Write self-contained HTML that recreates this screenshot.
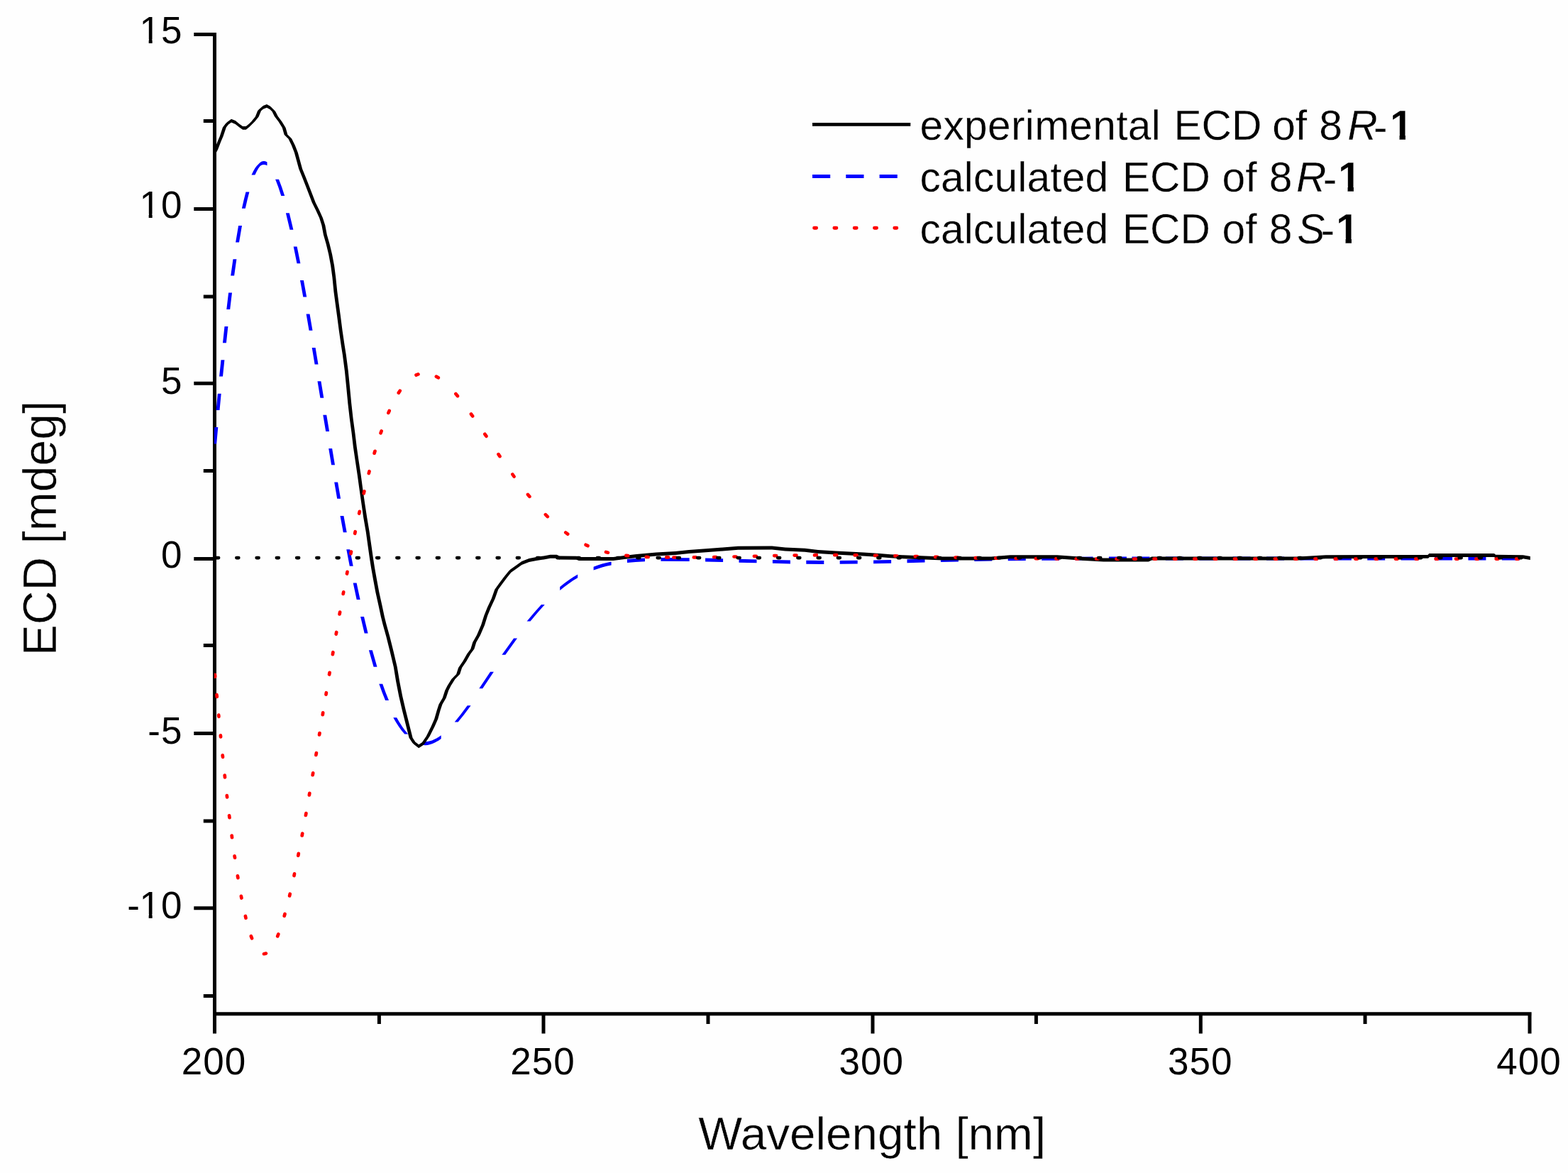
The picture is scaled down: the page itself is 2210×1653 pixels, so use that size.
<!DOCTYPE html>
<html lang="en">
<head>
<meta charset="utf-8">
<title>ECD spectra</title>
<style>
html,body{margin:0;padding:0;background:#fefefe;}
body{width:2210px;height:1653px;position:relative;overflow:hidden;font-family:"Liberation Sans",sans-serif;}
svg{display:block;}
</style>
</head>
<body>
<svg width="2210" height="1653" viewBox="0 0 2210 1653" style="position:absolute;left:0;top:0">
<rect width="2210" height="1653" fill="#fefefe"/>
<path d="M302.5 46 V1456.5 M302.5 1428.8 H2158.6 M273.3 48.4 H302.5 M273.3 294.4 H302.5 M273.3 540.2 H302.5 M273.3 787.5 H302.5 M273.3 1033.6 H302.5 M273.3 1279.7 H302.5 M286.8 170.5 H302.5 M286.8 418.0 H302.5 M286.8 663.6 H302.5 M286.8 909.6 H302.5 M286.8 1157.0 H302.5 M286.8 1403.5 H302.5 M766.0 1428.8 V1456.5 M1230.0 1428.8 V1456.5 M1692.3 1428.8 V1456.5 M2156.0 1428.8 V1456.5 M534.4 1428.8 V1443.0 M998.0 1428.8 V1443.0 M1460.4 1428.8 V1443.0 M1924.0 1428.8 V1443.0" fill="none" stroke="#000" stroke-width="5.0" stroke-linecap="butt"/>
<g clip-path="url(#plot)">
<path d="M300.3 625.5L302.4 602.1L307.3 602.1L305.2 625.5ZM304.6 578.1L306.8 554.8L311.7 554.8L309.5 578.1ZM309.1 530.6L311.5 507.3L316.4 507.3L314.0 530.6ZM314.0 483.3L316.5 460.0L321.4 460.0L318.9 483.3ZM319.3 436.0L322.1 412.5L327.0 412.5L324.2 436.0ZM325.2 388.5L328.5 365.3L333.4 365.3L330.1 388.5ZM332.1 341.4L336.1 317.9L341.0 317.9L337.0 341.4ZM340.9 293.8L343.7 281.5L348.6 281.5L345.8 293.8ZM343.7 281.5L346.5 270.5L351.4 270.5L348.6 281.5ZM343.7 281.5L346.1 279.1L348.6 281.5L346.1 284.0ZM354.5 246.6L356.9 241.5L361.8 241.5L359.4 246.6ZM356.9 241.5L359.3 237.3L364.2 237.3L361.8 241.5ZM359.3 237.3L361.7 234.0L366.6 234.0L364.2 237.3ZM364.1 231.6L366.6 229.1L366.6 234.0L364.1 236.5ZM366.6 229.1L369.0 227.6L369.0 232.5L366.6 234.0ZM369.0 227.6L371.5 227.0L371.5 231.9L369.0 232.5ZM371.5 227.0L374.0 227.3L374.0 232.2L371.5 231.9ZM374.0 227.3L376.5 228.4L376.5 233.3L374.0 232.2ZM356.9 241.5L359.3 239.0L361.8 241.5L359.3 243.9ZM359.3 237.3L361.7 234.8L364.2 237.3L361.7 239.7ZM361.7 234.0L364.1 231.6L366.6 234.0L364.1 236.5ZM364.1 231.6L366.6 229.1L369.0 231.6L366.6 234.0ZM366.6 230.1L369.0 227.6L371.5 230.1L369.0 232.5ZM369.0 229.5L371.5 227.0L373.9 229.5L371.5 231.9ZM371.5 229.7L374.0 227.3L376.4 229.7L374.0 232.2ZM393.0 252.7L397.1 263.5L392.2 263.5L388.1 252.7ZM397.1 263.5L401.2 276.1L396.3 276.1L392.2 263.5ZM392.2 263.5L394.6 261.0L397.1 263.5L394.6 265.9ZM407.8 300.3L413.4 323.7L408.5 323.7L402.9 300.3ZM418.6 347.6L423.4 371.2L418.5 371.2L413.7 347.6ZM427.9 395.0L432.2 418.5L427.3 418.5L423.0 395.0ZM436.5 442.5L440.5 465.7L435.6 465.7L431.6 442.5ZM444.6 490.0L448.5 513.4L443.6 513.4L439.7 490.0ZM452.4 537.3L456.3 560.7L451.4 560.7L447.5 537.3ZM460.2 584.7L464.1 608.0L459.2 608.0L455.3 584.7ZM468.1 632.1L472.0 655.3L467.1 655.3L463.2 632.1ZM476.1 679.4L480.1 702.8L475.2 702.8L471.2 679.4ZM484.4 727.0L488.7 750.3L483.8 750.3L479.5 727.0ZM493.2 774.3L497.7 797.7L492.8 797.7L488.3 774.3ZM502.6 821.6L507.6 845.0L502.7 845.0L497.7 821.6ZM513.0 869.0L518.6 892.5L513.7 892.5L508.1 869.0ZM524.8 916.3L531.5 939.8L526.6 939.8L519.9 916.3ZM539.2 963.8L543.6 975.9L538.7 975.9L534.3 963.8ZM543.6 975.9L548.0 987.1L543.1 987.1L538.7 975.9ZM538.7 975.9L541.1 973.4L543.6 975.9L541.1 978.3ZM559.2 1011.2L563.1 1018.1L558.2 1018.1L554.3 1011.2ZM563.1 1018.1L567.1 1024.3L562.2 1024.3L558.2 1018.1ZM567.1 1024.3L571.1 1029.8L566.2 1029.8L562.2 1024.3ZM571.1 1029.8L575.2 1034.5L570.3 1034.5L566.2 1029.8ZM558.2 1018.1L560.7 1015.7L563.1 1018.1L560.7 1020.6ZM562.2 1024.3L564.7 1021.9L567.1 1024.3L564.7 1026.8ZM566.2 1029.8L568.7 1027.3L571.1 1029.8L568.7 1032.2ZM596.7 1045.2L599.6 1045.3L599.6 1050.2L596.7 1050.1ZM599.6 1045.3L602.6 1045.0L602.6 1049.9L599.6 1050.2ZM602.6 1045.0L605.7 1044.3L605.7 1049.2L602.6 1049.9ZM605.7 1044.3L608.8 1043.4L608.8 1048.3L605.7 1049.2ZM608.8 1043.4L611.9 1042.1L611.9 1047.0L608.8 1048.3ZM611.9 1042.1L615.1 1040.4L615.1 1045.3L611.9 1047.0ZM615.1 1040.4L618.4 1038.5L618.4 1043.4L615.1 1045.3ZM618.4 1038.5L621.7 1036.2L621.7 1041.1L618.4 1043.4ZM597.2 1047.7L599.6 1045.3L602.1 1047.7L599.6 1050.2ZM600.2 1047.4L602.6 1045.0L605.1 1047.4L602.6 1049.9ZM603.2 1046.8L605.7 1044.3L608.1 1046.8L605.7 1049.2ZM606.3 1045.8L608.8 1043.4L611.2 1045.8L608.8 1048.3ZM609.5 1044.5L611.9 1042.1L614.4 1044.5L611.9 1047.0ZM612.7 1042.9L615.1 1040.4L617.6 1042.9L615.1 1045.3ZM615.9 1040.9L618.4 1038.5L620.8 1040.9L618.4 1043.4ZM640.7 1017.6L649.2 1007.0L654.1 1007.0L645.6 1017.6ZM649.2 1007.0L658.7 994.2L663.6 994.2L654.1 1007.0ZM649.2 1007.0L651.6 1004.6L654.1 1007.0L651.6 1009.5ZM675.3 970.2L691.0 946.8L695.9 946.8L680.2 970.2ZM707.4 922.8L724.1 899.4L729.0 899.4L712.3 922.8ZM742.6 875.4L752.9 863.2L757.8 863.2L747.5 875.4ZM752.9 863.2L762.9 852.1L767.8 852.1L757.8 863.2ZM752.9 863.2L755.3 860.7L757.8 863.2L755.3 865.6ZM789.2 827.0L795.4 822.0L795.4 826.9L789.2 831.9ZM795.4 822.0L801.6 817.5L801.6 822.4L795.4 826.9ZM801.6 817.5L807.9 813.2L807.9 818.1L801.6 822.4ZM807.9 813.2L814.2 809.4L814.2 814.3L807.9 818.1ZM793.0 824.5L795.4 822.0L797.9 824.5L795.4 826.9ZM799.2 819.9L801.6 817.5L804.1 819.9L801.6 822.4ZM805.4 815.7L807.9 813.2L810.3 815.7L807.9 818.1ZM836.6 798.7L842.6 796.5L842.6 801.4L836.6 803.6ZM842.6 796.5L848.7 794.6L848.7 799.5L842.6 801.4ZM848.7 794.6L855.0 792.9L855.0 797.8L848.7 799.5ZM855.0 792.9L861.6 791.5L861.6 796.4L855.0 797.8ZM840.1 799.0L842.6 796.5L845.0 799.0L842.6 801.4ZM846.3 797.1L848.7 794.6L851.2 797.1L848.7 799.5ZM852.6 795.4L855.0 792.9L857.5 795.4L855.0 797.8ZM884.0 788.1L895.8 787.1L895.8 792.0L884.0 793.0ZM895.8 787.1L909.0 786.4L909.0 791.3L895.8 792.0ZM893.4 789.5L895.8 787.1L898.3 789.5L895.8 792.0ZM931.4 785.9L971.7 786.2L971.7 791.1L931.4 790.8ZM994.1 786.6L1019.1 787.2L1019.1 792.1L994.1 791.5ZM1041.5 787.8L1066.5 788.4L1066.5 793.3L1041.5 792.7ZM1088.9 788.9L1113.9 789.5L1113.9 794.4L1088.9 793.8ZM1136.3 789.8L1161.3 790.0L1161.3 794.9L1136.3 794.7ZM1183.7 789.9L1208.7 789.7L1208.7 794.6L1183.7 794.8ZM1231.1 789.4L1256.1 788.9L1256.1 793.8L1231.1 794.3ZM1278.5 788.3L1303.5 787.7L1303.5 792.6L1278.5 793.2ZM1325.9 787.1L1350.9 786.5L1350.9 791.4L1325.9 792.0ZM1373.3 786.0L1398.3 785.6L1398.3 790.5L1373.3 790.9ZM1420.7 785.3L1445.7 785.1L1445.7 790.0L1420.7 790.2ZM1468.1 784.9L1493.1 784.8L1493.1 789.7L1468.1 789.8ZM1515.5 784.7L1540.5 784.6L1540.5 789.5L1515.5 789.6ZM1562.9 784.6L1587.9 784.6L1587.9 789.5L1562.9 789.5ZM1595.4 784.6L1620.4 784.6L1620.4 789.5L1595.4 789.5ZM1642.8 784.6L1667.8 784.5L1667.8 789.4L1642.8 789.5ZM1690.2 784.5L1715.2 784.5L1715.2 789.4L1690.2 789.4ZM1737.6 784.5L1762.6 784.5L1762.6 789.4L1737.6 789.4ZM1785.0 784.5L1810.0 784.5L1810.0 789.4L1785.0 789.4ZM1832.4 784.5L1857.4 784.5L1857.4 789.4L1832.4 789.4ZM1879.8 784.5L1904.8 784.5L1904.8 789.4L1879.8 789.4ZM1927.2 784.5L1952.2 784.5L1952.2 789.4L1927.2 789.4ZM1974.6 784.5L1999.6 784.5L1999.6 789.4L1974.6 789.4ZM2022.0 784.5L2047.0 784.5L2047.0 789.4L2022.0 789.4ZM2069.4 784.5L2094.4 784.5L2094.4 789.4L2069.4 789.4ZM2116.8 784.5L2141.8 784.5L2141.8 789.4L2116.8 789.4Z" fill="#0000ff"/>
<path d="M300.1 215.0L302.4 210.5L307.2 210.5L304.9 215.0ZM302.4 210.5L306.4 200.1L311.2 200.1L307.2 210.5ZM306.4 200.1L309.8 192.1L314.6 192.1L311.2 200.1ZM309.8 192.1L313.9 179.4L318.8 179.4L314.6 192.1ZM313.9 179.4L317.9 174.3L322.8 174.3L318.8 179.4ZM320.3 171.9L326.0 167.8L326.0 172.6L320.3 176.8ZM326.0 167.8L331.8 170.1L331.8 174.9L326.0 172.6ZM331.8 170.1L337.5 174.7L337.5 179.5L331.8 174.9ZM337.5 174.7L342.1 177.9L342.1 182.8L337.5 179.5ZM342.1 177.9L346.7 177.9L346.7 182.8L342.1 182.8ZM346.7 177.9L351.3 174.2L351.3 179.0L346.7 182.8ZM351.3 174.2L357.1 168.4L357.1 173.2L351.3 179.0ZM354.7 170.8L359.8 164.5L364.6 164.5L359.6 170.8ZM359.8 164.5L363.2 155.9L368.1 155.9L364.6 164.5ZM365.7 153.5L370.9 148.9L370.9 153.8L365.7 158.3ZM370.9 148.9L376.0 146.9L376.0 151.8L370.9 153.8ZM376.0 146.9L380.6 149.4L380.6 154.2L376.0 151.8ZM380.6 149.4L385.8 154.6L385.8 159.4L380.6 154.2ZM388.2 157.0L391.8 163.9L386.9 163.9L383.4 157.0ZM391.8 163.9L397.4 171.4L392.6 171.4L386.9 163.9ZM397.4 171.4L402.6 180.0L397.8 180.0L392.6 171.4ZM402.6 180.0L405.4 189.8L400.6 189.8L397.8 180.0ZM403.0 187.4L408.8 193.1L408.8 197.9L403.0 192.2ZM411.2 195.5L415.8 204.7L410.9 204.7L406.4 195.5ZM415.8 204.7L419.8 215.1L414.9 215.1L410.9 204.7ZM419.8 215.1L423.3 227.7L418.4 227.7L414.9 215.1ZM423.3 227.7L426.1 238.0L421.2 238.0L418.4 227.7ZM426.1 238.0L430.8 249.5L425.9 249.5L421.2 238.0ZM430.8 249.5L435.3 261.0L430.4 261.0L425.9 249.5ZM435.3 261.0L440.6 274.8L435.7 274.8L430.4 261.0ZM440.6 274.8L444.6 285.2L439.7 285.2L435.7 274.8ZM444.6 285.2L450.3 296.7L445.4 296.7L439.7 285.2ZM450.3 296.7L454.9 307.0L450.1 307.0L445.4 296.7ZM454.9 307.0L458.3 317.4L453.4 317.4L450.1 307.0ZM458.3 317.4L460.8 330.8L455.9 330.8L453.4 317.4ZM460.8 330.8L464.6 343.9L459.7 343.9L455.9 330.8ZM464.6 343.9L468.1 358.4L463.2 358.4L459.7 343.9ZM468.1 358.4L471.1 374.4L466.2 374.4L463.2 358.4ZM471.1 374.4L473.2 390.4L468.4 390.4L466.2 374.4ZM473.2 390.4L475.3 410.7L470.4 410.7L468.4 390.4ZM475.3 410.7L477.6 428.1L472.7 428.1L470.4 410.7ZM477.6 428.1L479.8 444.1L474.9 444.1L472.7 428.1ZM479.8 444.1L482.6 465.9L477.8 465.9L474.9 444.1ZM482.6 465.9L485.6 486.2L480.7 486.2L477.8 465.9ZM485.6 486.2L487.8 500.0L482.9 500.0L480.7 486.2ZM487.8 500.0L490.8 523.0L485.9 523.0L482.9 500.0ZM490.8 523.0L493.1 546.0L488.2 546.0L485.9 523.0ZM493.1 546.0L495.3 569.0L490.4 569.0L488.2 546.0ZM495.3 569.0L497.6 589.7L492.8 589.7L490.4 569.0ZM497.6 589.7L500.4 610.3L495.6 610.3L492.8 589.7ZM500.4 610.3L502.8 629.9L497.9 629.9L495.6 610.3ZM502.8 629.9L505.6 649.4L500.8 649.4L497.9 629.9ZM505.6 649.4L508.6 669.0L503.7 669.0L500.8 649.4ZM508.6 669.0L511.4 690.0L506.6 690.0L503.7 669.0ZM511.4 690.0L514.2 709.5L509.4 709.5L506.6 690.0ZM514.2 709.5L517.2 729.1L512.2 729.1L509.4 709.5ZM517.2 729.1L520.7 749.8L515.8 749.8L512.2 729.1ZM520.7 749.8L523.5 769.3L518.5 769.3L515.8 749.8ZM523.5 769.3L525.8 785.4L520.8 785.4L518.5 769.3ZM525.8 785.4L528.1 800.3L523.1 800.3L520.8 785.4ZM528.1 800.3L531.0 816.4L526.0 816.4L523.1 800.3ZM531.0 816.4L534.4 834.8L529.4 834.8L526.0 816.4ZM534.4 834.8L538.5 853.2L533.5 853.2L529.4 834.8ZM538.5 853.2L541.9 869.3L536.9 869.3L533.5 853.2ZM541.9 869.3L544.6 880.0L539.6 880.0L536.9 869.3ZM544.6 880.0L549.4 897.2L544.4 897.2L539.6 880.0ZM549.4 897.2L554.6 917.9L549.6 917.9L544.4 897.2ZM554.6 917.9L559.7 939.8L554.8 939.8L549.6 917.9ZM559.7 939.8L563.2 960.5L558.2 960.5L554.8 939.8ZM563.2 960.5L567.2 981.1L562.2 981.1L558.2 960.5ZM567.2 981.1L571.8 1000.7L566.8 1000.7L562.2 981.1ZM571.8 1000.7L577.0 1021.4L572.0 1021.4L566.8 1000.7ZM577.0 1021.4L581.6 1039.8L576.6 1039.8L572.0 1021.4ZM581.6 1039.8L586.2 1046.7L581.2 1046.7L576.6 1039.8ZM583.7 1044.2L590.2 1049.3L590.2 1054.2L583.7 1049.2ZM590.2 1049.3L596.3 1045.3L596.3 1050.2L590.2 1054.2ZM593.8 1047.8L600.8 1037.5L605.7 1037.5L598.8 1047.8ZM600.8 1037.5L607.6 1023.7L612.6 1023.7L605.7 1037.5ZM607.6 1023.7L612.2 1013.3L617.2 1013.3L612.6 1023.7ZM612.2 1013.3L615.8 1000.7L620.7 1000.7L617.2 1013.3ZM615.8 1000.7L618.5 992.6L623.5 992.6L620.7 1000.7ZM618.5 992.6L623.8 983.4L628.7 983.4L623.5 992.6ZM623.8 983.4L627.2 973.1L632.2 973.1L628.7 983.4ZM627.2 973.1L630.6 966.2L635.6 966.2L632.2 973.1ZM630.6 966.2L636.4 957.0L641.4 957.0L635.6 966.2ZM636.4 957.0L643.2 950.1L648.2 950.1L641.4 957.0ZM643.2 950.1L646.1 940.9L651.1 940.9L648.2 950.1ZM646.1 940.9L652.4 931.7L657.4 931.7L651.1 940.9ZM652.4 931.7L658.2 921.4L663.2 921.4L657.4 931.7ZM658.2 921.4L663.4 914.5L668.4 914.5L663.2 921.4ZM663.4 914.5L666.2 905.3L671.2 905.3L668.4 914.5ZM666.2 905.3L672.0 894.9L677.0 894.9L671.2 905.3ZM672.0 894.9L678.1 880.8L683.1 880.8L677.0 894.9ZM678.1 880.8L682.3 867.6L687.2 867.6L683.1 880.8ZM682.3 867.6L686.9 856.1L691.9 856.1L687.2 867.6ZM686.9 856.1L692.8 843.4L697.7 843.4L691.9 856.1ZM692.8 843.4L697.3 830.8L702.2 830.8L697.7 843.4ZM697.3 830.8L703.0 822.8L708.0 822.8L702.2 830.8ZM703.0 822.8L709.9 813.6L714.9 813.6L708.0 822.8ZM709.9 813.6L716.8 804.9L721.8 804.9L714.9 813.6ZM719.3 802.4L727.4 796.8L727.4 801.7L719.3 807.4ZM727.4 796.8L735.4 790.9L735.4 795.9L727.4 801.7ZM735.4 790.9L745.7 786.9L745.7 791.9L735.4 795.9ZM745.7 786.9L756.1 784.9L756.1 789.9L745.7 791.9ZM756.1 784.9L766.4 783.5L766.4 788.5L756.1 789.9ZM766.4 783.5L775.6 781.8L775.6 786.8L766.4 788.5ZM775.6 781.8L784.8 781.8L784.8 786.8L775.6 786.8ZM784.8 781.8L788.3 783.5L788.3 788.5L784.8 786.8ZM788.3 783.5L812.4 783.8L812.4 788.8L788.3 788.5ZM812.4 783.8L815.9 785.0L815.9 790.0L812.4 788.8ZM815.9 785.0L864.5 785.1L864.5 790.1L815.9 790.0ZM864.5 785.1L880.0 783.0L880.0 788.0L864.5 790.1ZM880.0 783.0L897.0 780.9L897.0 785.9L880.0 788.0ZM897.0 780.9L925.0 778.5L925.0 783.5L897.0 785.9ZM925.0 778.5L952.0 777.1L952.0 782.1L925.0 783.5ZM952.0 777.1L971.0 775.0L971.0 780.0L952.0 782.1ZM971.0 775.0L995.0 773.3L995.0 778.2L971.0 780.0ZM995.0 773.3L1018.6 771.5L1018.6 776.5L995.0 778.2ZM1018.6 771.5L1040.3 769.8L1040.3 774.8L1018.6 776.5ZM1040.3 769.8L1088.0 769.6L1088.0 774.6L1040.3 774.8ZM1088.0 769.6L1106.8 771.4L1106.8 776.4L1088.0 774.6ZM1106.8 771.4L1134.3 772.8L1134.3 777.8L1106.8 776.4ZM1134.3 772.8L1153.1 775.0L1153.1 780.0L1134.3 777.8ZM1153.1 775.0L1177.7 776.5L1177.7 781.5L1153.1 780.0ZM1177.7 776.5L1216.8 778.6L1216.8 783.6L1177.7 781.5ZM1216.8 778.6L1240.0 780.1L1240.0 785.1L1216.8 783.6ZM1240.0 780.1L1254.8 781.2L1254.8 786.2L1240.0 785.1ZM1254.8 781.2L1272.6 782.3L1272.6 787.2L1254.8 786.2ZM1272.6 782.3L1329.0 784.6L1329.0 789.6L1272.6 787.2ZM1329.0 784.6L1397.0 784.6L1397.0 789.6L1329.0 789.6ZM1397.0 784.6L1424.0 782.3L1424.0 787.2L1397.0 789.6ZM1424.0 782.3L1489.8 782.3L1489.8 787.2L1424.0 787.2ZM1489.8 782.3L1521.5 784.6L1521.5 789.6L1489.8 787.2ZM1521.5 784.6L1555.4 786.4L1555.4 791.4L1521.5 789.6ZM1555.4 786.4L1618.8 786.4L1618.8 791.4L1555.4 791.4ZM1618.8 786.4L1623.3 784.6L1623.3 789.6L1618.8 791.4ZM1623.3 784.6L1830.0 784.6L1830.0 789.6L1623.3 789.6ZM1830.0 784.6L1868.4 782.3L1868.4 787.2L1830.0 789.6ZM1868.4 782.3L2013.0 781.8L2013.0 786.7L1868.4 787.2ZM2010.5 784.2L2011.8 782.6L2016.8 782.6L2015.5 784.2ZM2014.3 780.1L2106.0 780.1L2106.0 785.1L2014.3 785.1ZM2106.0 780.1L2108.0 781.8L2108.0 786.7L2106.0 785.1ZM2108.0 781.8L2146.6 782.3L2146.6 787.2L2108.0 786.7ZM2146.6 782.3L2156.8 783.9L2156.8 788.9L2146.6 787.2ZM302.4 210.5L304.8 208.1L307.2 210.5L304.8 212.9ZM306.4 200.1L308.8 197.7L311.2 200.1L308.8 202.5ZM309.8 192.1L312.2 189.7L314.6 192.1L312.2 194.5ZM313.9 179.4L316.3 177.0L318.8 179.4L316.3 181.8ZM317.9 174.3L320.3 171.9L322.8 174.3L320.3 176.8ZM323.6 170.2L326.0 167.8L328.4 170.2L326.0 172.6ZM329.4 172.5L331.8 170.1L334.2 172.5L331.8 174.9ZM335.1 177.1L337.5 174.7L339.9 177.1L337.5 179.5ZM339.7 180.3L342.1 177.9L344.6 180.3L342.1 182.8ZM344.2 180.3L346.7 177.9L349.1 180.3L346.7 182.8ZM348.9 176.6L351.3 174.2L353.8 176.6L351.3 179.0ZM354.7 170.8L357.1 168.4L359.6 170.8L357.1 173.2ZM359.8 164.5L362.2 162.1L364.6 164.5L362.2 166.9ZM363.2 155.9L365.7 153.5L368.1 155.9L365.7 158.3ZM368.4 151.3L370.9 148.9L373.3 151.3L370.9 153.8ZM373.6 149.3L376.0 146.9L378.4 149.3L376.0 151.8ZM378.2 151.8L380.6 149.4L383.1 151.8L380.6 154.2ZM383.4 157.0L385.8 154.6L388.2 157.0L385.8 159.4ZM386.9 163.9L389.3 161.5L391.8 163.9L389.3 166.3ZM392.6 171.4L395.0 169.0L397.4 171.4L395.0 173.8ZM397.8 180.0L400.2 177.6L402.6 180.0L400.2 182.4ZM400.6 189.8L403.0 187.4L405.4 189.8L403.0 192.2ZM406.4 195.5L408.8 193.1L411.2 195.5L408.8 197.9ZM410.9 204.7L413.4 202.2L415.8 204.7L413.4 207.1ZM414.9 215.1L417.4 212.7L419.8 215.1L417.4 217.5ZM418.4 227.7L420.9 225.2L423.3 227.7L420.9 230.1ZM421.2 238.0L423.7 235.6L426.1 238.0L423.7 240.4ZM425.9 249.5L428.3 247.1L430.8 249.5L428.3 251.9ZM430.4 261.0L432.9 258.6L435.3 261.0L432.9 263.4ZM435.7 274.8L438.1 272.4L440.6 274.8L438.1 277.2ZM439.7 285.2L442.1 282.8L444.6 285.2L442.1 287.6ZM445.4 296.7L447.9 294.2L450.3 296.7L447.9 299.1ZM450.1 307.0L452.5 304.6L454.9 307.0L452.5 309.4ZM453.4 317.4L455.9 314.9L458.3 317.4L455.9 319.8ZM455.9 330.8L458.4 328.4L460.8 330.8L458.4 333.2ZM459.7 343.9L462.1 341.4L464.6 343.9L462.1 346.3ZM463.2 358.4L465.7 355.9L468.1 358.4L465.7 360.8ZM466.2 374.4L468.6 371.9L471.1 374.4L468.6 376.8ZM468.4 390.4L470.8 387.9L473.2 390.4L470.8 392.8ZM470.4 410.7L472.9 408.2L475.3 410.7L472.9 413.1ZM472.7 428.1L475.1 425.7L477.6 428.1L475.1 430.6ZM474.9 444.1L477.3 441.7L479.8 444.1L477.3 446.6ZM477.8 465.9L480.2 463.4L482.6 465.9L480.2 468.3ZM480.7 486.2L483.1 483.8L485.6 486.2L483.1 488.6ZM482.9 500.0L485.4 497.6L487.8 500.0L485.4 502.4ZM485.9 523.0L488.3 520.5L490.8 523.0L488.3 525.5ZM488.2 546.0L490.6 543.5L493.1 546.0L490.6 548.5ZM490.4 569.0L492.9 566.5L495.3 569.0L492.9 571.5ZM492.8 589.7L495.2 587.2L497.6 589.7L495.2 592.2ZM495.6 610.3L498.0 607.8L500.4 610.3L498.0 612.8ZM497.9 629.9L500.3 627.4L502.8 629.9L500.3 632.4ZM500.8 649.4L503.2 646.9L505.6 649.4L503.2 651.9ZM503.7 669.0L506.1 666.5L508.6 669.0L506.1 671.5ZM506.6 690.0L509.0 687.5L511.4 690.0L509.0 692.5ZM509.4 709.5L511.8 707.0L514.2 709.5L511.8 712.0ZM512.2 729.1L514.7 726.6L517.2 729.1L514.7 731.6ZM515.8 749.8L518.2 747.3L520.7 749.8L518.2 752.2ZM518.5 769.3L521.0 766.8L523.5 769.3L521.0 771.8ZM520.8 785.4L523.3 782.9L525.8 785.4L523.3 787.9ZM523.1 800.3L525.6 797.8L528.1 800.3L525.6 802.8ZM526.0 816.4L528.5 813.9L531.0 816.4L528.5 818.9ZM529.4 834.8L531.9 832.3L534.4 834.8L531.9 837.2ZM533.5 853.2L536.0 850.8L538.5 853.2L536.0 855.7ZM536.9 869.3L539.4 866.8L541.9 869.3L539.4 871.8ZM539.6 880.0L542.1 877.5L544.6 880.0L542.1 882.5ZM544.4 897.2L546.9 894.8L549.4 897.2L546.9 899.7ZM549.6 917.9L552.1 915.4L554.6 917.9L552.1 920.4ZM554.8 939.8L557.2 937.3L559.7 939.8L557.2 942.2ZM558.2 960.5L560.7 958.0L563.2 960.5L560.7 963.0ZM562.2 981.1L564.7 978.6L567.2 981.1L564.7 983.6ZM566.8 1000.7L569.3 998.2L571.8 1000.7L569.3 1003.2ZM572.0 1021.4L574.5 1018.9L577.0 1021.4L574.5 1023.9ZM576.6 1039.8L579.1 1037.3L581.6 1039.8L579.1 1042.2ZM581.2 1046.7L583.7 1044.2L586.2 1046.7L583.7 1049.2ZM587.8 1051.8L590.2 1049.3L592.7 1051.8L590.2 1054.2ZM593.8 1047.8L596.3 1045.3L598.8 1047.8L596.3 1050.2ZM600.8 1037.5L603.2 1035.0L605.7 1037.5L603.2 1040.0ZM607.6 1023.7L610.1 1021.2L612.6 1023.7L610.1 1026.2ZM612.2 1013.3L614.7 1010.8L617.2 1013.3L614.7 1015.8ZM615.8 1000.7L618.2 998.2L620.7 1000.7L618.2 1003.2ZM618.5 992.6L621.0 990.1L623.5 992.6L621.0 995.1ZM623.8 983.4L626.2 980.9L628.7 983.4L626.2 985.9ZM627.2 973.1L629.7 970.6L632.2 973.1L629.7 975.6ZM630.6 966.2L633.1 963.8L635.6 966.2L633.1 968.7ZM636.4 957.0L638.9 954.5L641.4 957.0L638.9 959.5ZM643.2 950.1L645.7 947.6L648.2 950.1L645.7 952.6ZM646.1 940.9L648.6 938.4L651.1 940.9L648.6 943.4ZM652.4 931.7L654.9 929.2L657.4 931.7L654.9 934.2ZM658.2 921.4L660.7 918.9L663.2 921.4L660.7 923.9ZM663.4 914.5L665.9 912.0L668.4 914.5L665.9 917.0ZM666.2 905.3L668.7 902.8L671.2 905.3L668.7 907.8ZM672.0 894.9L674.5 892.4L677.0 894.9L674.5 897.4ZM678.1 880.8L680.6 878.3L683.1 880.8L680.6 883.2ZM682.3 867.6L684.8 865.1L687.2 867.6L684.8 870.1ZM686.9 856.1L689.4 853.6L691.9 856.1L689.4 858.6ZM692.8 843.4L695.2 840.9L697.7 843.4L695.2 845.9ZM697.3 830.8L699.8 828.3L702.2 830.8L699.8 833.2ZM703.0 822.8L705.5 820.3L708.0 822.8L705.5 825.2ZM709.9 813.6L712.4 811.1L714.9 813.6L712.4 816.1ZM716.8 804.9L719.3 802.4L721.8 804.9L719.3 807.4ZM724.9 799.2L727.4 796.8L729.9 799.2L727.4 801.7ZM732.9 793.4L735.4 790.9L737.9 793.4L735.4 795.9ZM743.2 789.4L745.7 786.9L748.2 789.4L745.7 791.9ZM753.6 787.4L756.1 784.9L758.6 787.4L756.1 789.9ZM763.9 786.0L766.4 783.5L768.9 786.0L766.4 788.5ZM773.1 784.3L775.6 781.8L778.1 784.3L775.6 786.8ZM782.3 784.3L784.8 781.8L787.2 784.3L784.8 786.8ZM785.8 786.0L788.3 783.5L790.8 786.0L788.3 788.5ZM809.9 786.3L812.4 783.8L814.9 786.3L812.4 788.8ZM813.4 787.5L815.9 785.0L818.4 787.5L815.9 790.0ZM862.0 787.6L864.5 785.1L867.0 787.6L864.5 790.1ZM877.5 785.5L880.0 783.0L882.5 785.5L880.0 788.0ZM894.5 783.4L897.0 780.9L899.5 783.4L897.0 785.9ZM922.5 781.0L925.0 778.5L927.5 781.0L925.0 783.5ZM949.5 779.6L952.0 777.1L954.5 779.6L952.0 782.1ZM968.5 777.5L971.0 775.0L973.5 777.5L971.0 780.0ZM992.5 775.8L995.0 773.3L997.5 775.8L995.0 778.2ZM1016.1 774.0L1018.6 771.5L1021.1 774.0L1018.6 776.5ZM1037.8 772.3L1040.3 769.8L1042.8 772.3L1040.3 774.8ZM1085.5 772.1L1088.0 769.6L1090.5 772.1L1088.0 774.6ZM1104.3 773.9L1106.8 771.4L1109.2 773.9L1106.8 776.4ZM1131.8 775.3L1134.3 772.8L1136.8 775.3L1134.3 777.8ZM1150.6 777.5L1153.1 775.0L1155.5 777.5L1153.1 780.0ZM1175.2 779.0L1177.7 776.5L1180.2 779.0L1177.7 781.5ZM1214.3 781.1L1216.8 778.6L1219.2 781.1L1216.8 783.6ZM1237.5 782.6L1240.0 780.1L1242.5 782.6L1240.0 785.1ZM1252.3 783.7L1254.8 781.2L1257.2 783.7L1254.8 786.2ZM1270.1 784.8L1272.6 782.3L1275.0 784.8L1272.6 787.2ZM1326.5 787.1L1329.0 784.6L1331.5 787.1L1329.0 789.6ZM1394.5 787.1L1397.0 784.6L1399.5 787.1L1397.0 789.6ZM1421.5 784.8L1424.0 782.3L1426.5 784.8L1424.0 787.2ZM1487.3 784.8L1489.8 782.3L1492.2 784.8L1489.8 787.2ZM1519.0 787.1L1521.5 784.6L1524.0 787.1L1521.5 789.6ZM1553.0 788.9L1555.4 786.4L1557.9 788.9L1555.4 791.4ZM1616.3 788.9L1618.8 786.4L1621.2 788.9L1618.8 791.4ZM1620.8 787.1L1623.3 784.6L1625.8 787.1L1623.3 789.6ZM1827.5 787.1L1830.0 784.6L1832.5 787.1L1830.0 789.6ZM1866.0 784.8L1868.4 782.3L1870.9 784.8L1868.4 787.2ZM2010.5 784.2L2013.0 781.8L2015.5 784.2L2013.0 786.7ZM2011.8 782.6L2014.3 780.1L2016.8 782.6L2014.3 785.1ZM2103.6 782.6L2106.0 780.1L2108.4 782.6L2106.0 785.1ZM2105.6 784.2L2108.0 781.8L2110.4 784.2L2108.0 786.7ZM2144.2 784.8L2146.6 782.3L2149.0 784.8L2146.6 787.2Z" fill="#000"/>
<path d="M303.0 950.9 L303.2 953.7 M305.5 979.2 L305.8 981.9 M308.2 1007.7 L308.4 1009.9 M310.9 1036.4 L311.1 1038.4 M313.7 1064.4 L314.0 1066.8 M316.7 1092.6 L317.0 1095.4 M319.8 1121.2 L320.1 1123.4 M323.1 1149.3 L323.5 1152.2 M326.7 1177.5 L327.0 1180.2 M330.6 1206.3 L331.0 1208.7 M334.9 1234.4 L335.4 1237.1 M339.9 1262.9 L340.4 1265.5 M345.9 1291.0 L346.5 1293.7 M353.9 1319.3 L355.0 1322.2 M372.0 1344.2 L374.9 1343.6 M391.2 1319.3 L392.3 1316.5 M400.7 1290.8 L401.5 1288.0 M408.1 1262.4 L408.7 1259.7 M414.5 1234.0 L415.0 1231.4 M420.3 1205.7 L420.8 1202.9 M425.7 1177.5 L426.2 1174.6 M430.9 1148.9 L431.4 1146.1 M435.9 1120.4 L436.3 1117.8 M440.7 1092.2 L441.2 1089.3 M445.4 1063.9 L445.9 1061.1 M450.1 1035.4 L450.5 1033.0 M454.8 1007.2 L455.2 1004.4 M459.5 978.6 L459.9 976.2 M464.1 950.5 L464.6 947.8 M468.9 922.1 L469.4 919.2 M473.7 893.6 L474.2 891.0 M478.6 865.4 L479.1 862.6 M483.7 836.9 L484.2 834.4 M489.0 808.5 L489.5 805.9 M494.4 780.2 L495.0 777.5 M500.2 751.8 L500.7 749.2 M506.2 723.6 L506.8 720.9 M512.7 695.3 L513.4 692.3 M519.8 667.0 L520.5 664.2 M527.6 638.7 L528.5 635.8 M536.6 610.3 L537.6 607.4 M547.4 581.9 L548.7 579.0 M561.8 553.6 L563.7 550.7 M586.5 528.5 L589.4 527.4 M614.9 530.6 L617.8 532.3 M642.4 555.1 L644.9 558.1 M664.0 583.5 L666.1 586.4 M683.4 611.8 L685.4 614.7 M702.5 640.2 L704.5 643.1 M722.4 668.5 L724.5 671.5 M744.0 696.9 L746.4 699.8 M768.9 725.2 L771.8 728.1 M797.3 750.5 L800.2 752.7 M825.6 767.8 L828.5 769.2 M854.0 778.0 L856.9 778.7 M882.3 782.9 L885.2 783.2 M910.7 784.8 L913.6 785.0 M939.1 785.4 L942.0 785.4 M949.4 785.5 L952.3 785.5 M977.8 785.4 L980.7 785.4 M1006.2 785.1 L1009.1 785.0 M1034.5 784.5 L1037.4 784.5 M1062.9 783.8 L1065.8 783.8 M1091.2 783.1 L1094.1 783.1 M1119.6 782.6 L1122.5 782.6 M1148.0 782.3 L1150.9 782.2 M1176.3 782.2 L1179.2 782.2 M1204.7 782.4 L1207.6 782.4 M1233.0 782.8 L1235.9 782.9 M1261.4 783.4 L1264.3 783.5 M1289.8 784.1 L1292.7 784.2 M1318.1 784.9 L1321.0 784.9 M1346.5 785.5 L1349.4 785.6 M1374.8 786.1 L1377.7 786.2 M1403.2 786.6 L1406.1 786.6 M1431.6 787.0 L1434.5 787.0 M1459.9 787.2 L1462.8 787.2 M1488.3 787.4 L1491.2 787.4 M1516.6 787.5 L1519.5 787.5 M1545.0 787.5 L1547.9 787.5 M1573.4 787.6 L1576.3 787.6 M1598.1 787.6 L1601.0 787.6 M1626.5 787.6 L1629.4 787.6 M1654.9 787.6 L1657.8 787.6 M1683.2 787.6 L1686.1 787.6 M1711.6 787.6 L1714.5 787.6 M1739.9 787.6 L1742.8 787.6 M1768.3 787.6 L1771.2 787.6 M1796.7 787.6 L1799.6 787.6 M1825.0 787.6 L1827.9 787.6 M1853.4 787.6 L1856.3 787.6 M1881.7 787.6 L1884.6 787.6 M1910.1 787.6 L1913.0 787.6 M1938.5 787.6 L1941.4 787.6 M1966.8 787.6 L1969.7 787.6 M1995.2 787.6 L1998.1 787.6 M2023.5 787.6 L2026.4 787.6 M2051.9 787.6 L2054.8 787.6 M2080.3 787.6 L2083.2 787.6 M2108.6 787.6 L2111.5 787.6 M2137.0 787.6 L2139.9 787.6" fill="none" stroke="#ff0000" stroke-width="4.7" stroke-linecap="round" stroke-linejoin="round"/>
<path d="M305.2 786.1 L308.1 786.1 M333.4 786.1 L336.3 786.1 M361.7 786.1 L364.6 786.1 M389.9 786.1 L392.8 786.1 M418.2 786.1 L421.1 786.1 M446.4 786.1 L449.3 786.1 M474.7 786.1 L477.6 786.1 M502.9 786.1 L505.8 786.1 M531.2 786.1 L534.1 786.1 M559.4 786.1 L562.3 786.1 M587.7 786.1 L590.6 786.1 M615.9 786.1 L618.8 786.1 M644.2 786.1 L647.1 786.1 M672.4 786.1 L675.3 786.1 M700.7 786.1 L703.6 786.1 M728.9 786.1 L731.8 786.1 M757.2 786.1 L760.1 786.1 M785.4 786.1 L788.3 786.1 M813.7 786.1 L816.6 786.1 M841.9 786.1 L844.8 786.1 M870.2 786.1 L873.1 786.1 M898.4 786.1 L901.3 786.1 M926.7 786.1 L929.6 786.1 M954.9 786.1 L957.8 786.1 M983.2 786.1 L986.1 786.1 M1011.4 786.1 L1014.3 786.1 M1039.7 786.1 L1042.6 786.1 M1067.9 786.1 L1070.8 786.1 M1096.2 786.1 L1099.1 786.1 M1124.4 786.1 L1127.3 786.1 M1152.7 786.1 L1155.6 786.1 M1180.9 786.1 L1183.8 786.1 M1209.2 786.1 L1212.1 786.1 M1237.4 786.1 L1240.3 786.1 M1265.7 786.1 L1268.6 786.1 M1293.9 786.1 L1296.8 786.1 M1322.2 786.1 L1325.1 786.1 M1350.4 786.1 L1353.3 786.1 M1378.7 786.1 L1381.6 786.1 M1406.9 786.1 L1409.8 786.1 M1435.2 786.1 L1438.1 786.1 M1463.4 786.1 L1466.3 786.1 M1491.7 786.1 L1494.6 786.1 M1519.9 786.1 L1522.8 786.1 M1548.2 786.1 L1551.1 786.1 M1576.4 786.1 L1579.3 786.1 M1604.7 786.1 L1607.6 786.1 M1632.9 786.1 L1635.8 786.1 M1661.2 786.1 L1664.1 786.1 M1689.4 786.1 L1692.3 786.1 M1717.7 786.1 L1720.6 786.1 M1745.9 786.1 L1748.8 786.1 M1774.2 786.1 L1777.1 786.1 M1802.4 786.1 L1805.3 786.1 M1830.7 786.1 L1833.6 786.1 M1858.9 786.1 L1861.8 786.1 M1887.2 786.1 L1890.1 786.1 M1915.4 786.1 L1918.3 786.1 M1943.7 786.1 L1946.6 786.1 M1971.9 786.1 L1974.8 786.1 M2000.2 786.1 L2003.1 786.1 M2028.4 786.1 L2031.3 786.1 M2056.7 786.1 L2059.6 786.1 M2084.9 786.1 L2087.8 786.1 M2113.2 786.1 L2116.1 786.1 M2141.4 786.1 L2144.3 786.1" fill="none" stroke="#000" stroke-width="4.7" stroke-linecap="round"/>
</g>
<path d="M1145 175.4 H1283.3" stroke="#000" stroke-width="4.9" fill="none"/>
<path d="M1145 248.5 h25.2 m22.1 0 h25.2 m22.1 0 h25.2" stroke="#0000ff" stroke-width="4.9" fill="none"/>
<path d="M1147.6 321.3 h3 m25.3 0 h3 m25.3 0 h3 m25.3 0 h3 m25.3 0 h3" stroke="#ff0000" stroke-width="4.9" stroke-linecap="round" fill="none"/>
<g font-family="Liberation Sans, sans-serif" fill="#000">
<text id="yl15" x="196.50 227.00" y="60.70" font-size="53.0" clip-path="url(#c0)">15</text>
<text id="yl10" x="196.50 227.00" y="306.80" font-size="53.0" clip-path="url(#c1)">10</text>
<text id="yl5" x="227.00" y="554.70" font-size="53.0">5</text>
<text id="yl0" x="227.00" y="800.40" font-size="53.0">0</text>
<text id="yl-5" x="208.20 227.00" y="1048.20" font-size="53.0">-5</text>
<text id="yl-10" x="179.20 196.50 227.00" y="1293.90" font-size="53.0" clip-path="url(#c2)">-10</text>
<text id="xl200" x="255.76 286.26 316.76" y="1514.00" font-size="53.0">200</text>
<text id="xl250" x="719.30 749.80 780.30" y="1514.00" font-size="53.0">250</text>
<text id="xl300" x="1182.60 1213.10 1243.60" y="1514.00" font-size="53.0">300</text>
<text id="xl350" x="1646.00 1676.50 1707.00" y="1514.00" font-size="53.0">350</text>
<text id="xl400" x="2109.30 2139.80 2170.30" y="1514.00" font-size="53.0">400</text>
<text id="xt" x="1229.1" y="1619.9" font-size="65.6" text-anchor="middle" stroke="#fefefe" stroke-linejoin="round" stroke-width="0.5">Wavelength [nm]</text>
<text id="yt" transform="translate(78.7 744.5) rotate(-90)" font-size="66" text-anchor="middle" stroke="#fefefe" stroke-linejoin="round" stroke-width="0.5">ECD [mdeg]</text>
<text id="lg0" y="197.3" font-size="58.6" stroke="#fefefe" stroke-linejoin="round" stroke-width="0.3" clip-path="url(#c3)"><tspan x="1296.5" letter-spacing="0.35">experimental</tspan> <tspan x="1654.5">ECD</tspan> <tspan x="1793.2">of</tspan> <tspan x="1859.3">8</tspan><tspan x="1899.2" font-style="italic">R</tspan><tspan x="1936.0" dy="1.4">-</tspan><tspan x="1959.0" dy="-1.4" font-weight="bold">1</tspan></text>
<text id="lg1" y="270.2" font-size="58.6" stroke="#fefefe" stroke-linejoin="round" stroke-width="0.3" clip-path="url(#c4)"><tspan x="1296.5" letter-spacing="0.2">calculated</tspan> <tspan x="1582.0">ECD</tspan> <tspan x="1722.6">of</tspan> <tspan x="1788.8">8</tspan><tspan x="1827.0" font-style="italic">R</tspan><tspan x="1864.8" dy="1.4">-</tspan><tspan x="1886.0" dy="-1.4" font-weight="bold">1</tspan></text>
<text id="lg2" y="343.0" font-size="58.6" stroke="#fefefe" stroke-linejoin="round" stroke-width="0.3" clip-path="url(#c5)"><tspan x="1296.5" letter-spacing="0.2">calculated</tspan> <tspan x="1582.0">ECD</tspan> <tspan x="1722.6">of</tspan> <tspan x="1788.8">8</tspan><tspan x="1828.2" font-style="italic">S</tspan><tspan x="1861.6" dy="1.4">-</tspan><tspan x="1883.0" dy="-1.4" font-weight="bold">1</tspan></text>
</g>
<defs><clipPath id="plot"><rect x="301.9" y="40" width="1858" height="1392"/></clipPath><clipPath id="c0"><path clip-rule="evenodd" d="M186.5 7.7H280.0V76.6H186.5ZM199.04 55.14H209.68V63.70H199.04ZM214.66 55.14H224.89V63.70H214.66Z"/></clipPath><clipPath id="c1"><path clip-rule="evenodd" d="M186.5 253.8H280.0V322.7H186.5ZM199.04 301.24H209.68V309.80H199.04ZM214.66 301.24H224.89V309.80H214.66Z"/></clipPath><clipPath id="c2"><path clip-rule="evenodd" d="M169.2 1240.9H280.0V1309.8H169.2ZM199.04 1288.34H209.68V1296.90H199.04ZM214.66 1288.34H224.89V1296.90H214.66Z"/></clipPath><clipPath id="c3"><path clip-rule="evenodd" d="M1290.0 138.7H2060.0V217.8H1290.0ZM1961.19 189.72H1972.53V200.30H1961.19ZM1980.87 189.72H1991.46V200.30H1980.87Z"/></clipPath><clipPath id="c4"><path clip-rule="evenodd" d="M1290.0 211.6H2060.0V290.7H1290.0ZM1888.19 262.62H1899.53V273.20H1888.19ZM1907.87 262.62H1918.46V273.20H1907.87Z"/></clipPath><clipPath id="c5"><path clip-rule="evenodd" d="M1290.0 284.4H2060.0V363.5H1290.0ZM1885.19 335.42H1896.53V346.00H1885.19ZM1904.87 335.42H1915.46V346.00H1904.87Z"/></clipPath></defs>
</svg>
</body>
</html>
